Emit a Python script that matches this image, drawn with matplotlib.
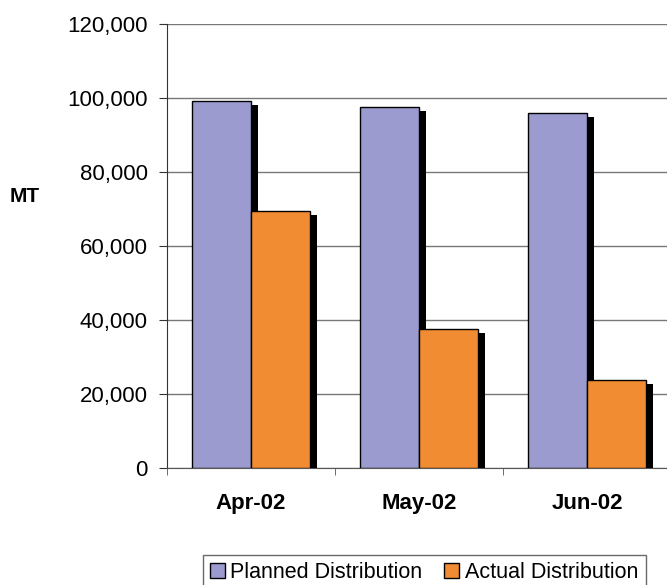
import matplotlib.pyplot as plt
import matplotlib.patheffects as pe
from matplotlib.patches import Patch
from matplotlib.ticker import FuncFormatter

months = ["Apr-02", "May-02", "Jun-02"]
planned = [99200, 97500, 96000]
actual = [69500, 37600, 23800]

plt.rcParams['font.family'] = ['Liberation Sans', 'DejaVu Sans']

fig = plt.figure(figsize=(6.67, 5.85), dpi=100)
ax = fig.add_axes([167 / 667, 117 / 585, 504 / 667, 444 / 585])

x = range(len(months))
w = 0.35
shadow = [pe.SimplePatchShadow(offset=(5, -3), shadow_rgbFace='black', alpha=1), pe.Normal()]

b1 = ax.bar([i - w / 2 for i in x], planned, w, color='#9b9bd0', edgecolor='black', linewidth=1, zorder=3)
b2 = ax.bar([i + w / 2 for i in x], actual, w, color='#f28c32', edgecolor='black', linewidth=1, zorder=3)
for bar in list(b1) + list(b2):
    bar.set_path_effects(shadow)

ax.set_xlim(-0.5, 2.5)
ax.set_ylim(0, 120000)
ax.set_yticks(range(0, 120001, 20000))
ax.yaxis.set_major_formatter(FuncFormatter(lambda v, p: f"{int(v):,}"))
ax.grid(axis='y', color='#777777', linewidth=1, zorder=0)

ax.set_xticks(list(x))
ax.set_xticklabels(months, fontsize=16, fontweight='bold')
ax.set_xticks([-0.5, 0.5, 1.5, 2.5], minor=True)
ax.tick_params(axis='x', which='major', length=0, pad=18)
ax.tick_params(axis='x', which='minor', length=5, color='#555555')
ax.tick_params(axis='y', length=6, labelsize=16, pad=8, color='#333333')

for s in ['top', 'right']:
    ax.spines[s].set_visible(False)
ax.spines['left'].set_color('#333333')
ax.spines['bottom'].set_color('#555555')

fig.text(25 / 667, 1 - 197 / 585, "MT", fontsize=15, fontweight='bold', ha='center', va='center')

handles = [Patch(facecolor='#9b9bd0', edgecolor='black', label='Planned Distribution'),
           Patch(facecolor='#f28c32', edgecolor='black', label='Actual Distribution')]
leg = fig.legend(handles=handles, loc='upper center', bbox_to_anchor=(424 / 667, 1 - 544 / 585),
                 ncol=2, fontsize=15.5, frameon=True, fancybox=False, handlelength=0.7, handleheight=0.7,
                 handletextpad=0.25, columnspacing=1.0, borderpad=0.35)
leg.get_frame().set_edgecolor('#444444')
leg.get_frame().set_linewidth(1)

fig.savefig("out.png", dpi=100)
